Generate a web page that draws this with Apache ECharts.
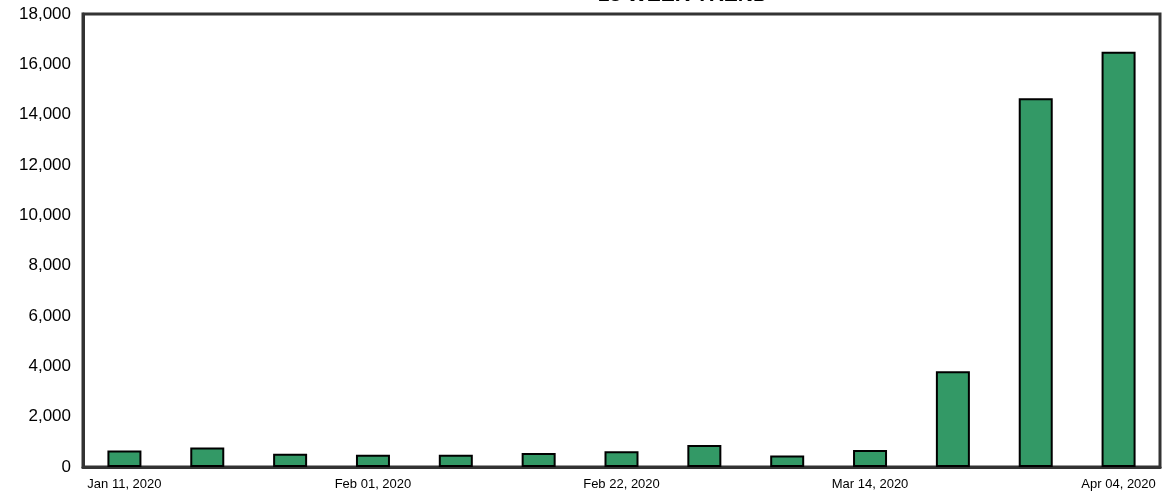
<!DOCTYPE html>
<html>
<head>
<meta charset="utf-8">
<script src="https://cdn.jsdelivr.net/npm/echarts@6/dist/echarts.min.js"></script>
<style>html,body{margin:0;padding:0;background:#fff;}#c{width:1165px;height:495px;}</style>
</head>
<body>
<div id="c"></div>
<script>
const categories = ["Jan 11, 2020","Jan 18, 2020","Jan 25, 2020","Feb 01, 2020","Feb 08, 2020","Feb 15, 2020","Feb 22, 2020","Feb 29, 2020","Mar 07, 2020","Mar 14, 2020","Mar 21, 2020","Mar 28, 2020","Apr 04, 2020"];
const values = [660, 770, 530, 490, 490, 560, 630, 870, 460, 680, 3800, 14650, 16500];
const titleText = "13 WEEK TREND";

const chart = echarts.init(document.getElementById('c'));
chart.setOption({
  animation: false,
  title: {
    text: titleText,
    left: 678, top: -20,
    textAlign: 'center',
    textStyle: {fontFamily: 'Liberation Sans', fontWeight: 'bold', fontSize: 21, color: '#000'}
  },
  grid: {left: 83, right: 5, top: 14, bottom: 28, show: true, borderColor: '#333', borderWidth: 3, containLabel: false},
  xAxis: {
    type: 'category', data: categories,
    axisLine: {show: true, lineStyle: {color: '#333', width: 3}},
    axisTick: {show: false},
    axisLabel: {interval: 2, color: '#000', fontFamily: 'Liberation Sans', fontSize: 13, margin: 11}
  },
  yAxis: {
    type: 'value', min: 0, max: 18000, interval: 2000,
    axisLine: {show: true, lineStyle: {color: '#333', width: 3}},
    axisTick: {show: false},
    splitLine: {show: false},
    axisLabel: {color: '#000', fontFamily: 'Liberation Sans', fontSize: 17, margin: 12,
      formatter: v => v.toLocaleString('en-US')}
  },
  series: [{
    type: 'bar', data: values, barWidth: 34,
    itemStyle: {color: '#339966', borderColor: '#000', borderWidth: 2}
  }]
});
</script>
</body>
</html>
